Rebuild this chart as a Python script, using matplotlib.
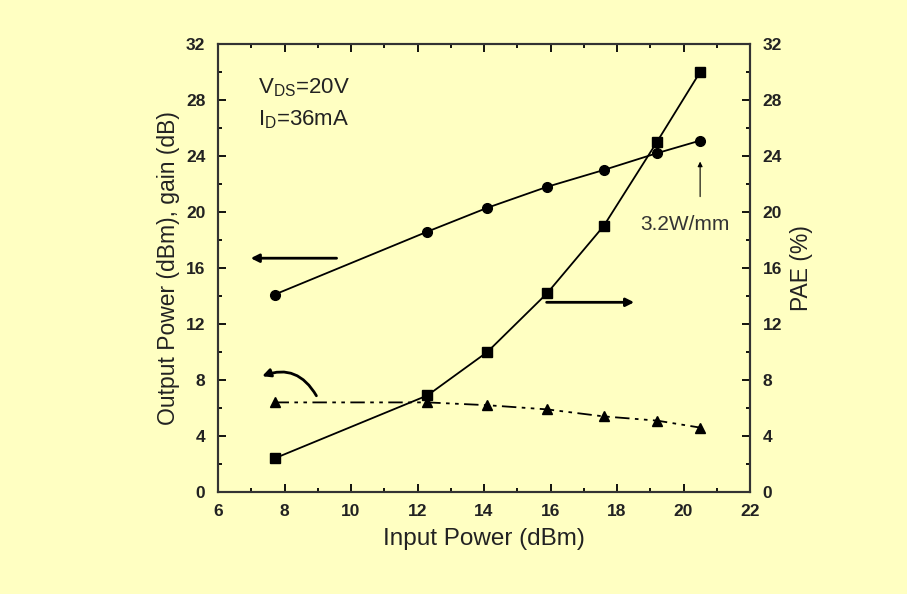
import numpy as np
import matplotlib.pyplot as plt

plt.rcParams['font.family'] = ['Liberation Sans', 'DejaVu Sans']

# data
pin = [7.7, 12.3, 14.1, 15.9, 17.6, 19.2, 20.5]
pout = [14.1, 18.6, 20.3, 21.8, 23.0, 24.2, 25.1]
gain = [6.4, 6.4, 6.2, 5.9, 5.4, 5.1, 4.6]
pae = [2.4, 6.9, 10.0, 14.2, 19.0, 25.0, 30.0]

bg = "#ffffc2"
ink = "#222222"

fig = plt.figure(figsize=(9.07, 5.94), dpi=100, facecolor=bg)
ax = fig.add_axes([218 / 907, 1 - 492 / 594, 532 / 907, 448 / 594], facecolor=bg)
ax2 = ax.twinx()

ax.plot(pin, pout, color="black", lw=1.3, marker="o", ms=7)
ax.plot(pin, gain, color="black", lw=1.3, marker="^", ms=7.5, dashes=(8, 3, 2, 3, 2, 3))
ax2.plot(pin, pae, color="black", lw=1.3, marker="s", ms=6.5)

ax.set_xlim(6, 22)
ax.set_ylim(0, 32)
ax2.set_ylim(0, 32)
ax.set_xticks(np.arange(6, 23, 2))
ax.set_xticks(np.arange(7, 22, 2), minor=True)
for a in (ax, ax2):
    a.set_yticks(np.arange(0, 33, 4))
    a.set_yticks(np.arange(2, 32, 4), minor=True)
    for s in a.spines.values():
        s.set_linewidth(1.5)
        s.set_color("#333333")

ax.tick_params(which="both", direction="in", top=True, labelsize=12.5, width=1.3, labelcolor=ink)
ax.tick_params(which="major", length=6)
ax.tick_params(which="minor", length=3)
ax.tick_params(axis="x", pad=9)
ax.tick_params(axis="y", pad=9)
ax2.tick_params(which="both", direction="in", labelsize=12.5, width=1.3, labelcolor=ink, pad=9)
ax2.tick_params(which="major", length=6)
ax2.tick_params(which="minor", length=3)
for lab in ax.get_xticklabels() + ax.get_yticklabels() + ax2.get_yticklabels():
    lab.set_fontweight("bold")

ax.set_xlabel("Input Power (dBm)", fontsize=17.5, labelpad=6, color=ink)
ax.set_ylabel("Output Power (dBm), gain (dB)", fontsize=16.5, labelpad=4, color=ink)
ax2.set_ylabel("PAE (%)", fontsize=16.5, labelpad=6, color=ink)

# annotations
ax.text(7.2, 28.5, r"V$_{\mathregular{DS}}$=20V", fontsize=16, color=ink)
ax.text(7.2, 26.2, r"I$_{\mathregular{D}}$=36mA", fontsize=16, color=ink)
ax.annotate("", xy=(6.9, 16.7), xytext=(9.65, 16.7),
            arrowprops=dict(arrowstyle="-|>", color="black", lw=2, mutation_scale=12))
ax.annotate("", xy=(18.6, 13.55), xytext=(15.8, 13.55),
            arrowprops=dict(arrowstyle="-|>", color="black", lw=2, mutation_scale=12))
ax.annotate("", xy=(7.25, 8.2), xytext=(9.0, 6.7),
            arrowprops=dict(arrowstyle="-|>", color="black", lw=2, mutation_scale=12,
                            connectionstyle="arc3,rad=0.45"))
ax.annotate("", xy=(20.5, 23.8), xytext=(20.5, 20.9),
            arrowprops=dict(arrowstyle="-|>", color="black", lw=0.8, mutation_scale=7))
ax.text(20.05, 19.1, "3.2W/mm", fontsize=15, ha="center", va="center", color="#333333")

fig.savefig("out.png", dpi=100, facecolor=bg)
